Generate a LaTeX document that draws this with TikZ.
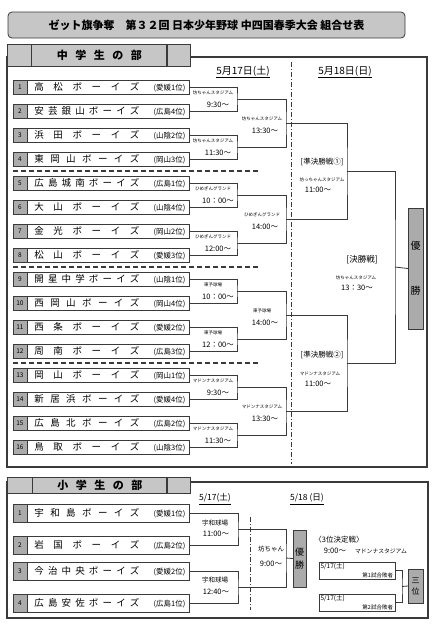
\documentclass[tikz,border=0pt]{standalone}
\usepackage{fontspec}
\newfontfamily\jp{Noto Sans CJK JP}
\usetikzlibrary{positioning}
\definecolor{ln}{HTML}{3A3A3A}
\definecolor{cellgray}{HTML}{ABABAB}
\definecolor{tabgray}{HTML}{C6C6C6}
\newcommand\sz[1]{\fontsize{#1}{#1}\selectfont}
\newcommand\tname[2]{\makebox[162pt]{\hspace{7pt}\makebox[105pt][s]{\spaceskip=1pt plus 1fil #1}\hfill{\sz{7.5}(#2)}\hspace{4pt}}}

\begin{document}
\begin{tikzpicture}[x=1pt,y=-1pt,
  num/.style={rectangle,draw=ln,fill=cellgray,minimum width=14pt,minimum height=14pt,inner sep=0pt,font=\jp\sz{6.5}},
  team/.style={rectangle,draw=ln,fill=white,minimum width=162pt,minimum height=14pt,inner sep=0pt,font=\jp\sz{9.5}},
  tabcell/.style={rectangle,draw=ln,thick,fill=tabgray,minimum height=22pt,inner sep=0pt,font=\jp\bfseries\sz{11}},
  ven/.style={inner sep=0pt,font=\jp\sz{4.5}},
  tm/.style={inner sep=0pt,font=\jp\sz{7.5}},
  hdr/.style={inner sep=0pt,font=\jp\sz{10}},
  win/.style={rectangle,draw=ln,fill=cellgray,inner sep=0pt,align=center},
  slot/.style={rectangle,draw=ln,fill=white,minimum width=76pt,minimum height=17pt,inner sep=0pt},
  brk/.style={draw=ln,line width=0.8pt},
  sep/.style={draw=ln,line width=1.4pt,dash pattern=on 5pt off 3pt},
  daybar/.style={draw=ln,line width=1pt,dash pattern=on 5pt off 2pt on 1pt off 2pt}]
\useasboundingbox (0,0) rectangle (438,625);

% title
\node[rectangle,rounded corners=4pt,draw=ln,thick,fill=tabgray,minimum width=397pt,minimum height=26pt,inner sep=0pt,font=\jp\bfseries\sz{11}] (title) at (206.5,25) {ゼット旗争奪　第３２回 日本少年野球 中四国春季大会 組合せ表};

% ---- middle school ----
\draw[ln,line width=1.5pt] (7,57) rectangle (427,467);
\node[tabcell,minimum width=24pt] (ma) at (19,55) {};
\node[tabcell,minimum width=135pt,right=0pt of ma] (mb) {\makebox[85pt][s]{\spaceskip=1pt plus 1fil 中 学 生 の 部}};
\node[tabcell,minimum width=23pt,right=0pt of mb] (mc) {};

\node[hdr] (d17) at (243,72) {\underline{5月17日(土)}};
\node[hdr] (d18) at (345,72) {\underline{5月18日(日)}};
\draw[daybar] (291,62) -- (291,464);

\draw[sep] (13,171) -- (258,171);
\draw[sep] (13,267) -- (258,267);
\draw[sep] (13,363) -- (258,363);

\node[num] (n1) at (20,87) {1};
\node[team,right=0pt of n1] (t1) {\tname{高 松 ボ ー イ ズ}{愛媛1位}};
\node[num] (n2) at (20,111) {2};
\node[team,right=0pt of n2] (t2) {\tname{安 芸 銀 山 ボ ー イ ズ}{広島4位}};
\node[num] (n3) at (20,135) {3};
\node[team,right=0pt of n3] (t3) {\tname{浜 田 ボ ー イ ズ}{山陰2位}};
\node[num] (n4) at (20,159) {4};
\node[team,right=0pt of n4] (t4) {\tname{東 岡 山 ボ ー イ ズ}{岡山3位}};
\node[num] (n5) at (20,183) {5};
\node[team,right=0pt of n5] (t5) {\tname{広 島 城 南 ボ ー イ ズ}{広島1位}};
\node[num] (n6) at (20,207) {6};
\node[team,right=0pt of n6] (t6) {\tname{大 山 ボ ー イ ズ}{山陰4位}};
\node[num] (n7) at (20,231) {7};
\node[team,right=0pt of n7] (t7) {\tname{金 光 ボ ー イ ズ}{岡山2位}};
\node[num] (n8) at (20,255) {8};
\node[team,right=0pt of n8] (t8) {\tname{松 山 ボ ー イ ズ}{愛媛3位}};
\node[num] (n9) at (20,279) {9};
\node[team,right=0pt of n9] (t9) {\tname{開 星 中 学 ボ ー イ ズ}{山陰1位}};
\node[num] (n10) at (20,303) {10};
\node[team,right=0pt of n10] (t10) {\tname{西 岡 山 ボ ー イ ズ}{岡山4位}};
\node[num] (n11) at (20,327) {11};
\node[team,right=0pt of n11] (t11) {\tname{西 条 ボ ー イ ズ}{愛媛2位}};
\node[num] (n12) at (20,351) {12};
\node[team,right=0pt of n12] (t12) {\tname{周 南 ボ ー イ ズ}{広島3位}};
\node[num] (n13) at (20,375) {13};
\node[team,right=0pt of n13] (t13) {\tname{岡 山 ボ ー イ ズ}{岡山1位}};
\node[num] (n14) at (20,399) {14};
\node[team,right=0pt of n14] (t14) {\tname{新 居 浜 ボ ー イ ズ}{愛媛4位}};
\node[num] (n15) at (20,423) {15};
\node[team,right=0pt of n15] (t15) {\tname{広 島 北 ボ ー イ ズ}{広島2位}};
\node[num] (n16) at (20,447) {16};
\node[team,right=0pt of n16] (t16) {\tname{鳥 取 ボ ー イ ズ}{山陰3位}};

\coordinate (m1) at (237,99);
\coordinate (m2) at (237,147);
\coordinate (m3) at (237,195);
\coordinate (m4) at (237,243);
\coordinate (m5) at (237,291);
\coordinate (m6) at (237,339);
\coordinate (m7) at (237,387);
\coordinate (m8) at (237,435);
\coordinate (q1) at (286,123);
\coordinate (q2) at (286,219);
\coordinate (q3) at (286,315);
\coordinate (q4) at (286,411);
\coordinate (s1) at (347,171);
\coordinate (s2) at (347,363);
\coordinate (fin) at (395,267);
\node[win,minimum width=15pt,minimum height=121pt,font=\jp\fontsize{10}{12}\selectfont] (champ) at (415.5,268.5) {優\\[33pt]勝};

\draw[brk] (t1.east) -| (m1) |- (t2.east);
\draw[brk] (t3.east) -| (m2) |- (t4.east);
\draw[brk] (t5.east) -| (m3) |- (t6.east);
\draw[brk] (t7.east) -| (m4) |- (t8.east);
\draw[brk] (t9.east) -| (m5) |- (t10.east);
\draw[brk] (t11.east) -| (m6) |- (t12.east);
\draw[brk] (t13.east) -| (m7) |- (t14.east);
\draw[brk] (t15.east) -| (m8) |- (t16.east);
\draw[brk] (m1) -| (q1) |- (m2);
\draw[brk] (m3) -| (q2) |- (m4);
\draw[brk] (m5) -| (q3) |- (m6);
\draw[brk] (m7) -| (q4) |- (m8);
\draw[brk] (q1) -| (s1) |- (q2);
\draw[brk] (q3) -| (s2) |- (q4);
\draw[brk] (s1) -| (fin) |- (s2);
\draw[brk] (fin) -- (champ.west);

% first round
\node[ven] (v1) at (213,93) {坊ちゃんスタジアム};
\node[tm] (h1) at (218,105) {9:30〜};
\node[ven] (v2) at (213,141) {坊ちゃんスタジアム};
\node[tm] (h2) at (218,153) {11:30〜};
\node[ven] (v3) at (213,189) {ひめぎんグランド};
\node[tm] (h3) at (218,201) {10：00〜};
\node[ven] (v4) at (213,237) {ひめぎんグランド};
\node[tm] (h4) at (218,249) {12:00〜};
\node[ven] (v5) at (213,285) {東予球場};
\node[tm] (h5) at (218,297) {10：00〜};
\node[ven] (v6) at (213,333) {東予球場};
\node[tm] (h6) at (218,345) {12：00〜};
\node[ven] (v7) at (213,381) {マドンナスタジアム};
\node[tm] (h7) at (218,393) {9:30〜};
\node[ven] (v8) at (213,429) {マドンナスタジアム};
\node[tm] (h8) at (218,441) {11:30〜};
% second round
\node[ven] (w1) at (262,119) {坊ちゃんスタジアム};
\node[tm] (k1) at (265,131) {13:30〜};
\node[ven] (w2) at (262,215) {ひめぎんグランド};
\node[tm] (k2) at (265,227) {14:00〜};
\node[ven] (w3) at (262,311) {東予球場};
\node[tm] (k3) at (265,323) {14:00〜};
\node[ven] (w4) at (262,407) {マドンナスタジアム};
\node[tm] (k4) at (265,419) {13:30〜};
% semis and final
\node[tm] (sl1) at (322,162) {[準決勝戦①]};
\node[ven] (sv1) at (322,180) {坊っちゃんスタジアム};
\node[tm] (st1) at (318,190) {11:00〜};
\node[tm] (sl2) at (322,355) {[準決勝戦②]};
\node[ven] (sv2) at (320,374) {マドンナスタジアム};
\node[tm] (st2) at (318,384) {11:00〜};
\node[tm,font=\jp\sz{8.5}] (fl) at (362,260) {[決勝戦]};
\node[ven] (fv) at (356,278) {坊ちゃんスタジアム};
\node[tm] (ft) at (357,288) {13：30〜};

% ---- elementary school ----
\draw[ln,line width=1.5pt] (7,482) rectangle (428,618);
\node[tabcell,minimum width=25pt,minimum height=16pt] (ea) at (19.5,485) {};
\node[tabcell,minimum width=134pt,minimum height=16pt,right=0pt of ea] (eb) {\makebox[85pt][s]{\spaceskip=1pt plus 1fil 小 学 生 の 部}};
\node[tabcell,minimum width=23pt,minimum height=16pt,right=0pt of eb] (ec) {};

\node[hdr,font=\jp\sz{8.5}] (e17) at (215,499) {\underline{5/17(土)}};
\node[hdr,font=\jp\sz{8.5}] (e18) at (307,499) {\underline{5/18 (日)}};
\draw[daybar] (250,517) -- (250,610);

\node[num,minimum height=18pt] (en1) at (20,513.5) {1};
\node[team,minimum height=18pt,right=0pt of en1] (e1) {\tname{宇 和 島 ボ ー イ ズ}{愛媛1位}};
\node[num,minimum height=18pt] (en2) at (20,545.5) {2};
\node[team,minimum height=18pt,right=0pt of en2] (e2) {\tname{岩 国 ボ ー イ ズ}{広島2位}};
\node[num,minimum height=18pt] (en3) at (20,571) {3};
\node[team,minimum height=18pt,right=0pt of en3] (e3) {\tname{今 治 中 央 ボ ー イ ズ}{愛媛2位}};
\node[num,minimum height=18pt] (en4) at (20,603) {4};
\node[team,minimum height=18pt,right=0pt of en4] (e4) {\tname{広 島 安 佐 ボ ー イ ズ}{広島1位}};

\coordinate (g1) at (238,529.5);
\coordinate (g2) at (238,587);
\coordinate (gf) at (286,558);
\node[win,minimum width=13pt,minimum height=57pt,font=\jp\fontsize{9}{13}\selectfont] (echamp) at (299.5,558.5) {優\\勝};
\draw[brk] (e1.east) -| (g1) |- (e2.east);
\draw[brk] (e3.east) -| (g2) |- (e4.east);
\draw[brk] (g1) -| (gf) |- (g2);
\draw[brk] (gf) -- (echamp.west);

\node[tm,font=\jp\sz{6.5}] (ev1) at (215,523) {宇和球場};
\node[tm] (et1) at (216,534) {11:00〜};
\node[tm,font=\jp\sz{6.5}] (ev2) at (215,580) {宇和球場};
\node[tm] (et2) at (216,592) {12:40〜};
\node[tm,font=\jp\sz{6.5}] (efv) at (271,549) {坊ちゃん};
\node[tm] (eft) at (271,564) {9:00〜};

% third place
\node[tm] (tpl) at (339,540) {〈3位決定戦〉};
\node[tm] (tpt) at (335,551) {9:00〜};
\node[ven,font=\jp\sz{5.8}] (tpv) at (381,551) {マドンナスタジアム};
\node[slot] (b1) at (357,570.5) {};
\node[tm,font=\jp\sz{6.5},anchor=north west] (b1d) at ([shift={(1.5,1.5)}]b1.north west) {5/17(土)};
\node[ven,font=\jp\sz{5.5},anchor=south east] (b1l) at ([shift={(-2,-1.5)}]b1.south east) {第1試合敗者};
\node[slot] (b2) at (357,602.5) {};
\node[tm,font=\jp\sz{6.5},anchor=north west] (b2d) at ([shift={(1.5,1.5)}]b2.north west) {5/17(土)};
\node[ven,font=\jp\sz{5.5},anchor=south east] (b2l) at ([shift={(-2,-1.5)}]b2.south east) {第2試合敗者};
\coordinate (tp) at (402,586.5);
\node[win,minimum width=15pt,minimum height=34pt,font=\jp\fontsize{8}{11}\selectfont] (third) at (415.5,586) {三\\位};
\draw[brk] (b1.east) -| (tp) |- (b2.east);
\draw[brk] (tp) -- (third.west);
\end{tikzpicture}
\end{document}
